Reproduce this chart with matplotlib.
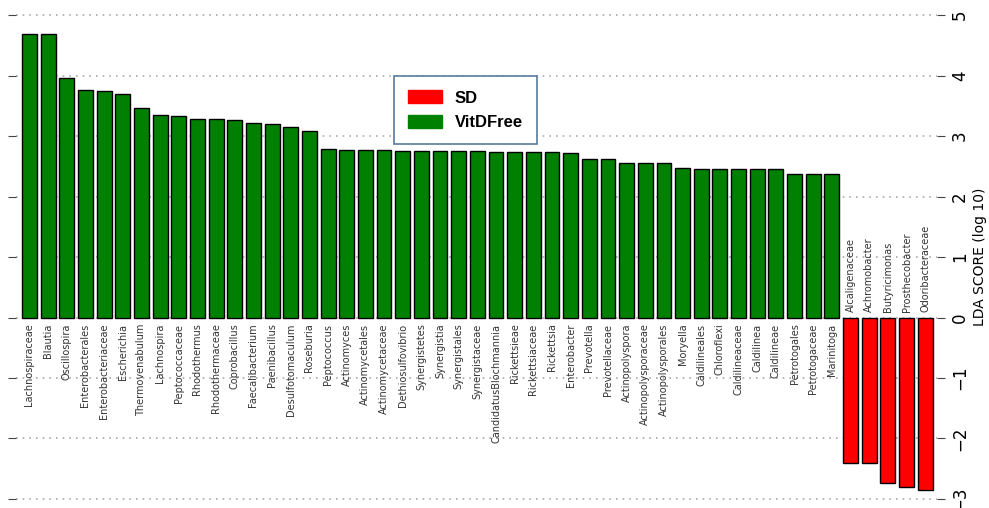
import matplotlib
matplotlib.use("Agg")
import matplotlib.pyplot as plt
from matplotlib.patches import Patch

# Data
# ---------------------------------------
vitdfree_names = [
    "Lachnospiraceae", "Blautia", "Oscillospira", "Enterobacterales",
    "Enterobacteriaceae", "Escherichia", "Thermovenabulum", "Lachnospira",
    "Peptococcaceae", "Rhodothermus", "Rhodothermaceae", "Coprobacillus",
    "Faecalibacterium", "Paenibacillus", "Desulfotomaculum", "Roseburia",
    "Peptococcus", "Actinomyces", "Actinomycetales", "Actinomycetaceae",
    "Dethiosulfovibrio", "Synergistetes", "Synergistia", "Synergistales",
    "Synergistaceae", "CandidatusBlochmannia", "Rickettsieae", "Rickettsiaceae",
    "Rickettsia", "Enterobacter", "Prevotella", "Prevotellaceae",
    "Actinopolyspora", "Actinopolysporaceae", "Actinopolysporales", "Moryella",
    "Caldilineales", "Chloroflexi", "Caldilineaceae", "Caldilinea",
    "Caldilineae", "Petrotogales", "Petrotogaceae", "Marinitoga",
]
vitdfree_scores = [
    4.69, 4.69, 3.96, 3.77, 3.75, 3.70, 3.47, 3.35, 3.33, 3.28, 3.28,
    3.26, 3.22, 3.20, 3.15, 3.09, 2.78, 2.77, 2.77, 2.77, 2.75, 2.75,
    2.75, 2.75, 2.75, 2.74, 2.74, 2.74, 2.73, 2.72, 2.63, 2.63, 2.55,
    2.55, 2.55, 2.48, 2.46, 2.45, 2.45, 2.45, 2.45, 2.38, 2.38, 2.38,
]

sd_names = ["Alcaligenaceae", "Achromobacter", "Butyricimonas",
            "Prosthecobacter", "Odoribacteraceae"]
sd_scores = [-2.40, -2.40, -2.73, -2.81, -2.85]

y_ticks = [-3, -2, -1, 0, 1, 2, 3, 4, 5]

# Plot
# ---------------------------------------
names = vitdfree_names + sd_names
scores = vitdfree_scores + sd_scores
colors = ["green"] * len(vitdfree_names) + ["red"] * len(sd_names)
xs = list(range(len(names)))

fig = plt.figure(figsize=(9.89, 5.08), dpi=100)
ax = fig.add_axes([16 / 989, 3 / 508, 921 / 989, 495.8 / 508])

ax.bar(xs, scores, width=0.8, color=colors, edgecolor="black", linewidth=1, zorder=2)

# taxon names next to the zero line
for x, name, s in zip(xs, names, scores):
    if s > 0:
        ax.text(x, -0.1, name, rotation=90, ha="center", va="top",
                fontsize=7, color="#333333")
    else:
        ax.text(x, 0.1, name, rotation=90, ha="center", va="bottom",
                fontsize=7, color="#333333")

ax.set_xlim(-0.72, len(names) - 1 + 0.63)
ax.set_ylim(-3.1, 5.1)
ax.set_xticks([])
ax.set_yticks(y_ticks)
ax.yaxis.grid(True, linestyle=(0, (1, 3)), color="#aaaaaa", linewidth=1.2, zorder=0)
ax.set_axisbelow(True)

for side in ["top", "bottom", "left", "right"]:
    ax.spines[side].set_visible(False)

ax.yaxis.set_ticks_position("both")
ax.tick_params(axis="y", direction="out", length=6, color="#444444", pad=4,
               labelleft=False, labelright=True, labelsize=12, labelrotation=90)
for lab in ax.get_yticklabels():
    lab.set_va("center")
ax.yaxis.set_label_position("right")
ax.set_ylabel("LDA SCORE (log 10)", fontsize=10, rotation=90, labelpad=3)

handles = [Patch(facecolor="red", edgecolor="red", label="SD"),
           Patch(facecolor="green", edgecolor="green", label="VitDFree")]
leg = ax.legend(handles=handles, loc="upper left",
                bbox_to_anchor=(394 / 989, 1 - 76 / 508),
                bbox_transform=fig.transFigure, borderaxespad=0,
                prop={"family": "Liberation Sans", "weight": "bold", "size": 12},
                handlelength=2.0, handleheight=0.85, handletextpad=0.8,
                labelspacing=0.55, borderpad=0.85, fancybox=False,
                framealpha=1)
leg.get_frame().set_edgecolor("#5a7a9e")
leg.get_frame().set_linewidth(1.2)

plt.savefig("out.png", dpi=100)
plt.close()
